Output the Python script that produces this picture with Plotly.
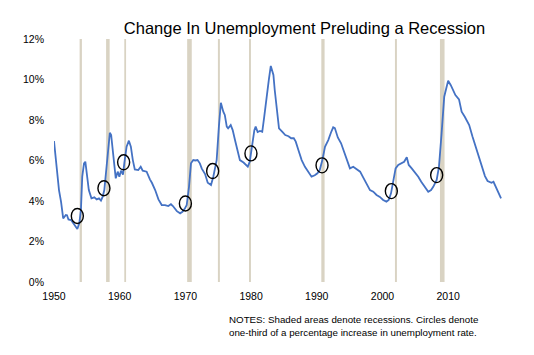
import plotly.graph_objects as go

# Unemployment rate series (year, percent)
years = [1950.0, 1950.4, 1950.76, 1951.07, 1951.4, 1951.8, 1951.98, 1952.2, 1952.6, 1952.94,
         1953.3, 1953.55, 1953.85, 1954.1, 1954.3, 1954.57, 1954.77, 1955.0, 1955.3, 1955.7,
         1956.14, 1956.5, 1956.85, 1957.15, 1957.4, 1957.66, 1958.0, 1958.27, 1958.5, 1958.7,
         1959.0, 1959.4, 1959.7, 1959.95, 1960.2, 1960.5, 1960.7, 1961.05, 1961.4, 1961.7,
         1962.0, 1962.3, 1962.83, 1963.2, 1963.5, 1964.1, 1964.6, 1964.9, 1965.4, 1965.9,
         1966.4, 1966.9, 1967.4, 1967.8, 1968.1, 1968.7, 1969.2, 1969.55, 1969.94, 1970.2,
         1970.55, 1970.85, 1971.2, 1971.5, 1971.85, 1972.2, 1972.5, 1973.0, 1973.4, 1973.9,
         1974.25, 1974.76, 1975.1, 1975.4, 1975.77, 1976.0, 1976.3, 1976.5, 1976.9, 1977.2,
         1977.55, 1977.96, 1978.3, 1978.85, 1979.3, 1979.5, 1979.8, 1980.2, 1980.5, 1980.7,
         1981.0, 1981.35, 1981.7, 1982.0, 1982.4, 1982.7, 1983.0, 1983.4, 1983.6, 1983.9,
         1984.25, 1984.8, 1985.2, 1985.7, 1986.1, 1986.5, 1986.8, 1987.2, 1987.7, 1988.2,
         1988.7, 1989.2, 1989.7, 1990.1, 1990.45, 1990.85, 1991.25, 1991.75, 1992.15, 1992.5,
         1992.75, 1993.2, 1993.7, 1994.2, 1994.7, 1995.05, 1995.55, 1996.07, 1996.6, 1997.0,
         1997.6, 1998.1, 1998.6, 1999.1, 1999.6, 2000.1, 2000.6, 2000.95, 2001.3, 2001.65,
         2002.0, 2002.4, 2002.9, 2003.3, 2003.7, 2004.0, 2004.45, 2004.9, 2005.45, 2005.9,
         2006.47, 2006.97, 2007.4, 2007.73, 2008.25, 2008.6, 2009.0, 2009.4, 2009.77, 2010.0,
         2010.4, 2010.78, 2011.1, 2011.65, 2012.05, 2012.55, 2013.2, 2013.7, 2014.2, 2014.6,
         2015.1, 2015.6, 2016.0, 2016.6, 2016.9, 2017.3, 2017.7, 2018.05]
rates = [6.96, 5.69, 4.54, 3.97, 3.14, 3.31, 3.30, 3.09, 3.06, 2.90,
         2.73, 2.62, 2.90, 3.56, 5.20, 5.86, 5.94, 5.20, 4.54, 4.13,
         4.18, 4.08, 4.13, 4.02, 4.20, 4.54, 5.86, 6.85, 7.37, 7.26,
         6.36, 5.12, 5.45, 5.20, 5.50, 5.30, 5.86, 6.68, 6.98, 6.68,
         6.02, 5.56, 5.53, 5.69, 5.50, 5.45, 5.07, 4.90, 4.54, 4.08,
         3.80, 3.80, 3.75, 3.84, 3.75, 3.50, 3.39, 3.47, 3.64, 3.80,
         4.70, 5.86, 6.02, 6.00, 6.02, 5.86, 5.60, 5.33, 4.90, 4.79,
         5.20, 6.02, 7.67, 8.85, 8.41, 8.25, 7.67, 7.59, 7.75, 7.50,
         7.01, 6.52, 6.02, 5.90, 5.78, 5.70, 5.94, 6.85, 7.50, 7.67,
         7.41, 7.46, 7.42, 8.16, 9.32, 9.98, 10.67, 10.22, 9.48, 8.58,
         7.59, 7.40, 7.26, 7.20, 7.10, 7.10, 6.93, 6.52, 6.02, 5.69,
         5.45, 5.20, 5.27, 5.37, 5.53, 6.02, 6.68, 7.01, 7.37, 7.64,
         7.60, 7.14, 6.85, 6.36, 5.94, 5.61, 5.69, 5.56, 5.45, 5.20,
         4.87, 4.54, 4.46, 4.30, 4.20, 4.05, 3.97, 4.05, 4.38, 5.04,
         5.61, 5.78, 5.86, 5.94, 6.16, 5.78, 5.61, 5.45, 5.20, 4.95,
         4.70, 4.46, 4.54, 4.70, 5.04, 5.69, 7.34, 9.15, 9.64, 9.94,
         9.72, 9.48, 9.23, 9.02, 8.41, 8.15, 7.75, 7.18, 6.68, 6.19,
         5.69, 5.23, 4.99, 4.90, 4.95, 4.63, 4.38, 4.13]

# Circles: one-third percentage point increase points
circle_years = [1953.55, 1957.6, 1960.6, 1970.0, 1974.15, 1979.98, 1990.8, 2001.35, 2008.25]
circle_rates = [3.26, 4.63, 5.91, 3.88, 5.48, 6.35, 5.76, 4.49, 5.28]

# Recession shading (start, end in years)
rec_start = [1953.9, 1957.93, 1960.7, 1970.27, 1974.95, 1979.68, 1990.69, 2001.9, 2008.75]
rec_end = [1954.25, 1958.47, 1960.97, 1970.97, 1975.25, 1979.98, 1991.19, 2002.2, 2009.45]

y_ticks = [0, 2, 4, 6, 8, 10, 12]
x_ticks = [1950, 1960, 1970, 1980, 1990, 2000, 2010]

FONT = "Liberation Sans, Arial, sans-serif"

# page body adds an 8px offset; figure is sized to fill the rest of the window
W, H, OFF = 526, 347, 8

fig = go.Figure()
fig.add_trace(go.Scatter(x=years, y=rates, mode="lines",
                         line=dict(color="#4472C4", width=1.8),
                         hoverinfo="skip", showlegend=False))

shapes = []
for s, e in zip(rec_start, rec_end):
    shapes.append(dict(type="rect", xref="x", yref="y", x0=s, x1=e, y0=0, y1=12,
                       fillcolor="#d9d3c3", line=dict(width=0), layer="below"))
for cx, cy in zip(circle_years, circle_rates):
    shapes.append(dict(type="circle", xref="x", yref="y",
                       xsizemode="pixel", ysizemode="pixel",
                       xanchor=cx, yanchor=cy, x0=-6, x1=6, y0=-7.5, y1=7.5,
                       line=dict(color="black", width=1.4), layer="above"))

fig.update_layout(
    width=W, height=H,
    margin=dict(l=54 - OFF, r=30, t=39 - OFF, b=73),
    paper_bgcolor="white", plot_bgcolor="white",
    font=dict(family=FONT, color="black"),
    shapes=shapes,
    title=dict(text="Change In Unemployment Preluding a Recession",
               x=(304.5 - OFF) / W, xanchor="center", y=1 - (28.7 - OFF) / H, yanchor="middle",
               font=dict(size=16.5, color="black", family=FONT)),
    xaxis=dict(range=[1950, 2018.5], tickvals=x_ticks, ticktext=[str(v) for v in x_ticks],
               showgrid=False, zeroline=False, showline=False, ticks="",
               tickfont=dict(size=10.5, color="black"), ticklabelstandoff=6),
    yaxis=dict(range=[0, 12], tickvals=y_ticks, ticktext=[f"{v}%" for v in y_ticks],
               showgrid=False, zeroline=False, showline=False, ticks="",
               tickfont=dict(size=10.5, color="black"), ticklabelstandoff=9),
    annotations=[dict(text="NOTES: Shaded areas denote recessions. Circles denote<br>"
                           "one-third of a percentage increase in unemployment rate.",
                      xref="paper", yref="paper", x=(227.3 - 54) / 450, y=(282 - 325.8) / 243,
                      xanchor="left", yanchor="middle", align="left", showarrow=False,
                      font=dict(size=9.75, color="black", family=FONT))],
)

fig.write_html("out.html")
